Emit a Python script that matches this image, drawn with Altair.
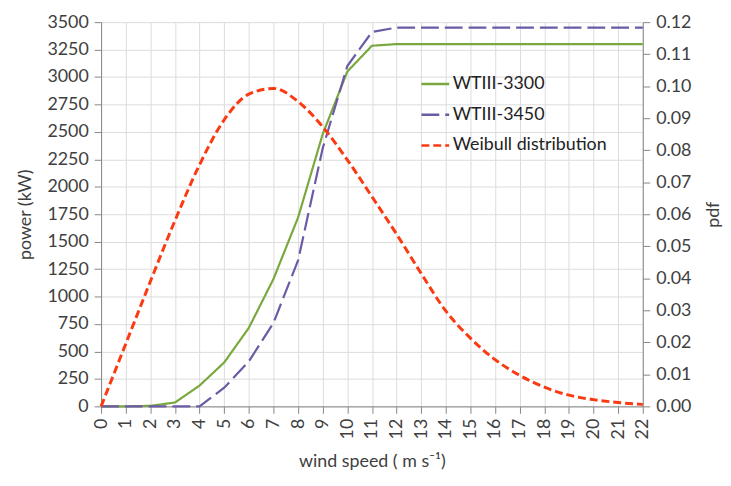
import altair as alt
import pandas as pd

wind = list(range(0, 23))
wt3300 = [0, 0, 5, 35, 190, 400, 715, 1160, 1720, 2480, 3050, 3285, 3300, 3300, 3300,
          3300, 3300, 3300, 3300, 3300, 3300, 3300, 3300]
wt3450 = [0, 0, 0, 0, 0, 170, 410, 760, 1330, 2350, 3100, 3410, 3450, 3450, 3450,
          3450, 3450, 3450, 3450, 3450, 3450, 3450, 3450]
weibull = [0.0, 0.0195, 0.039, 0.058, 0.0755, 0.0895, 0.0975, 0.0993, 0.0952, 0.0873,
           0.0770, 0.0655, 0.0538, 0.0415, 0.0298, 0.0213, 0.0146, 0.0097, 0.0060,
           0.0035, 0.0021, 0.0012, 0.0006]

names = ["WTIII-3300", "WTIII-3450", "Weibull distribution"]
colors = ["#7aa83f", "#6b5aa6", "#fb3a12"]
dashes = [[1, 0], [18, 6], [8, 4]]

power = pd.DataFrame({
    "wind": wind + wind,
    "value": wt3300 + wt3450,
    "series": [names[0]] * len(wind) + [names[1]] * len(wind),
})
pdf = pd.DataFrame({"wind": wind, "value": weibull, "series": [names[2]] * len(wind)})

FONT = "Lato"
TXT = "#404040"
FS = 18

color_scale = alt.Scale(domain=names, range=colors)
dash_scale = alt.Scale(domain=names, range=dashes)
legend = alt.Legend(
    title=None, orient="none", legendX=322, legendY=47, symbolType="stroke",
    symbolSize=784, symbolStrokeWidth=2.5, labelFont=FONT, labelFontSize=FS,
    labelColor="#222222", rowPadding=6, labelOffset=2, symbolLimit=0,
)

x_enc = alt.X(
    "wind:Q",
    scale=alt.Scale(domain=[0, 22], nice=False),
    axis=alt.Axis(
        values=list(range(0, 23)), labelAngle=270, title="wind speed ( m s⁻¹)",
        titlePadding=14, grid=True, tickSize=7, labelPadding=5, format="d",
    ),
)

power_layer = alt.Chart(power).mark_line(strokeWidth=2.2).encode(
    x=x_enc,
    y=alt.Y(
        "value:Q",
        scale=alt.Scale(domain=[0, 3500], nice=False),
        axis=alt.Axis(values=list(range(0, 3501, 250)), title="power (kW)", format="d",
                      tickSize=7, labelPadding=6, titlePadding=13, grid=True),
    ),
    color=alt.Color("series:N", scale=color_scale, legend=legend),
    strokeDash=alt.StrokeDash("series:N", scale=dash_scale, legend=legend),
)

pdf_layer = alt.Chart(pdf).mark_line(strokeWidth=3, interpolate="monotone").encode(
    x=x_enc,
    y=alt.Y(
        "value:Q",
        scale=alt.Scale(domain=[0, 0.12], nice=False),
        axis=alt.Axis(orient="right", values=[i / 100 for i in range(13)], format=".2f",
                      title="pdf", titleAngle=270, titleBaseline="top", tickSize=7,
                      labelPadding=6, titlePadding=14, grid=False),
    ),
    color=alt.Color("series:N", scale=color_scale, legend=legend),
    strokeDash=alt.StrokeDash("series:N", scale=dash_scale, legend=legend),
)

chart = (
    alt.layer(power_layer, pdf_layer)
    .resolve_scale(y="independent")
    .properties(width=547, height=388, padding={"left": 8, "top": 3, "right": 0, "bottom": 0})
    .configure_view(stroke=None)
    .configure_axis(
        labelFont=FONT, labelFontSize=FS, labelColor=TXT, titleFont=FONT,
        titleFontSize=FS, titleFontWeight="normal", titleColor=TXT,
        domainColor="#868686", tickColor="#868686", gridColor="#dcdcdc", gridWidth=1,
    )
)

chart.save("out.html", embed_options={"renderer": "svg", "actions": False})
